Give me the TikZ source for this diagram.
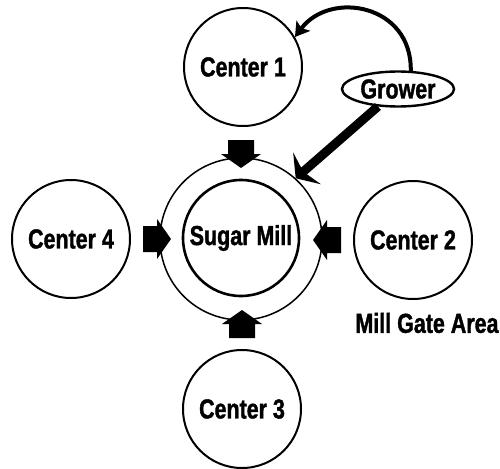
\documentclass[tikz,border=0pt]{standalone}
\usepackage{fontspec}
\setmainfont{Liberation Sans}[FakeStretch=0.78,BoldFeatures={FakeBold=1.3}]
\usetikzlibrary{arrows.meta,shapes.geometric}
\begin{document}
\begin{tikzpicture}[x=1pt,y=-1pt,
  txt/.style={font=\fontsize{27.5}{32}\selectfont\bfseries},
  centre/.style={circle,draw,line width=2pt,minimum size=118pt,inner sep=0pt,txt},
  mill/.style={circle,draw,line width=2.6pt,minimum size=116pt,inner sep=0pt,txt},
  ring/.style={circle,draw,line width=1.5pt,minimum size=162pt,inner sep=0pt},
  growerbox/.style={ellipse,draw,line width=2.4pt,minimum width=112pt,minimum height=35pt,inner sep=0pt,txt},
  curvearrow/.style={line width=4pt,-{Stealth[length=14pt,width=17pt,inset=3pt]}},
  thickarrow/.style={line width=9pt,-{Stealth[length=15pt,width=42pt,inset=5pt]}},
  blockarrow/.pic={\fill (0,-13)--(14,-13)--(14,-20)--(28,0)--(14,20)--(14,13)--(0,13)--cycle;}]
\useasboundingbox (0,0) rectangle (500,468);

% mill gate ring and the mill itself
\node[ring] (ringo) at (241,239) {};
\node[mill] (mill) at (241,238) {Sugar Mill};

% collection centres around the mill
\node[centre] (c1) at (243,67) {Center 1};
\node[centre] (c2) at (413,240) {Center 2};
\node[centre] (c3) at (242,409) {Center 3};
\node[centre] (c4) at (71,239) {Center 4};

\node[txt] (gate) at (427,323) {Mill Gate Area};

% cane flow from the centres into the mill gate
\pic[rotate=-90] at (241,140) {blockarrow};
\pic at (143,239) {blockarrow};
\pic[rotate=180] at (341,240) {blockarrow};
\pic[rotate=90] at (242,338) {blockarrow};

% grower and his two supply routes
\node[growerbox] (grower) at (398,89) {Grower};
\draw[curvearrow] (grower.55) .. controls (412,4) and (330,-10) .. (c1.30);
\draw[thickarrow] (grower) -- (ringo.48);
\end{tikzpicture}
\end{document}
